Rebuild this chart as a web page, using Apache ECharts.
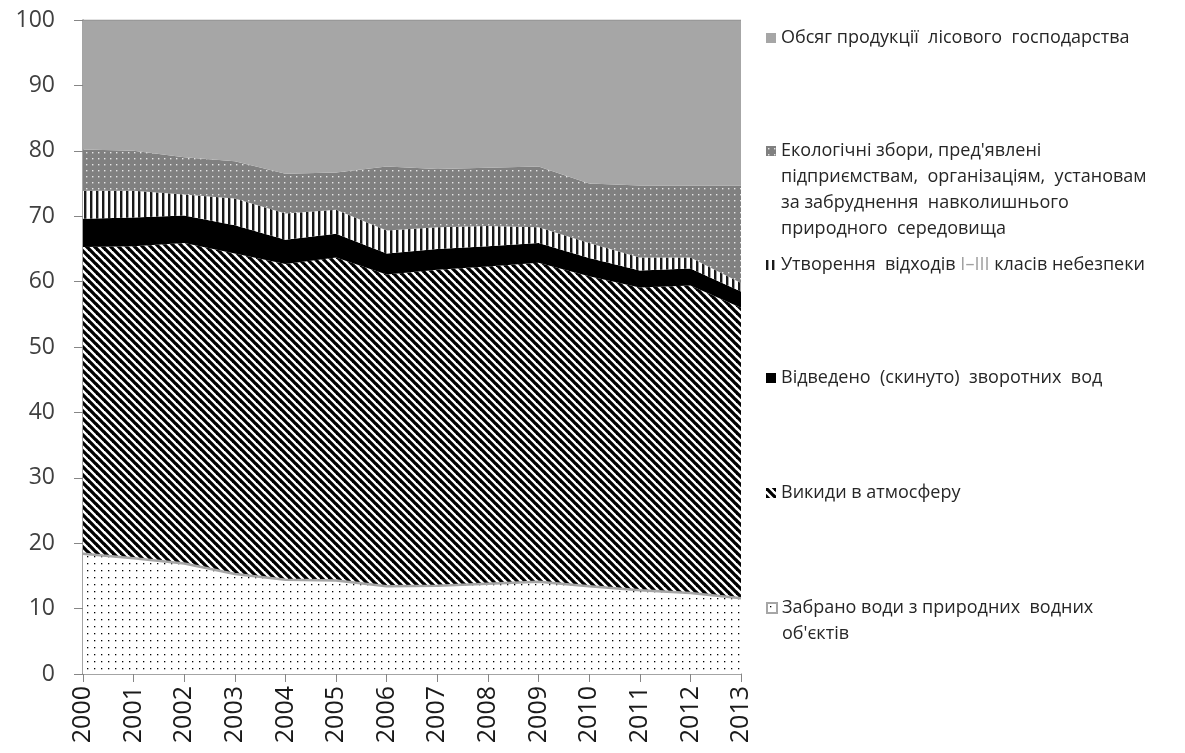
<!DOCTYPE html>
<html>
<head>
<meta charset="utf-8">
<script src="https://cdn.jsdelivr.net/npm/echarts@6/dist/echarts.min.js"></script>
<style>
html, body {margin: 0; padding: 0; background: #fff;}
#chart {width: 1185px; height: 753px;}
</style>
</head>
<body>
<div id="chart"></div>
<script>
// роки і частки (%) по кожному показнику, знизу вгору
var years = ['2000', '2001', '2002', '2003', '2004', '2005', '2006', '2007', '2008', '2009', '2010', '2011', '2012', '2013'];
var waterTaken   = [18.4, 17.7, 16.9, 15.3, 14.4, 14.3, 13.4, 13.5, 13.8, 14.1, 13.4, 12.8, 12.4, 11.6];
var airEmissions = [46.9, 47.7, 49.0, 49.0, 48.3, 49.4, 47.7, 48.3, 48.5, 48.8, 47.4, 46.3, 47.0, 44.4];
var wasteWater   = [4.3, 4.4, 4.2, 4.3, 3.7, 3.6, 3.2, 3.2, 3.1, 3.0, 2.8, 2.6, 2.6, 2.5];
var hazardWaste  = [4.3, 4.1, 3.2, 4.1, 4.0, 3.7, 3.5, 3.3, 3.1, 2.4, 2.3, 2.0, 1.7, 1.3];
var ecoFees      = [6.3, 6.1, 5.7, 5.7, 6.1, 5.7, 9.8, 8.9, 8.9, 9.3, 9.1, 11.0, 11.0, 14.9];
var forestOutput = [19.8, 20.0, 21.0, 21.6, 23.5, 23.3, 22.4, 22.8, 22.6, 22.4, 25.0, 25.3, 25.3, 25.3];

var names = [
    "Забрано води з природних водних об'єктів",
    'Викиди в атмосферу',
    'Відведено (скинуто) зворотних вод',
    'Утворення відходів I–III класів небезпеки',
    "Екологічні збори, пред'явлені підприємствам, організаціям, установам за забруднення навколишнього природного середовища",
    'Обсяг продукції лісового господарства'
];

var FONT = 'Open Sans';

// штрихування як у Excel
function makeTile(w, h, draw){
    var c = document.createElement('canvas');
    c.width = w; c.height = h;
    var ctx = c.getContext('2d');
    draw(ctx, w, h);
    return {image: c, repeat: 'repeat'};
}

var dotsFill = makeTile(7, 7, function(ctx, w, h){
    ctx.fillStyle = '#fff'; ctx.fillRect(0, 0, w, h);
    ctx.fillStyle = '#000'; ctx.fillRect(3, 3, 1.3, 1.3);
});
var diagFill = makeTile(8, 8, function(ctx, w, h){
    ctx.fillStyle = '#fff'; ctx.fillRect(0, 0, w, h);
    ctx.strokeStyle = '#000'; ctx.lineWidth = 3.3;
    [[-w, 0], [0, 0], [w, 0]].forEach(function(o){
        ctx.beginPath();
        ctx.moveTo(o[0] - 1, o[1] - 1);
        ctx.lineTo(o[0] + w + 1, o[1] + h + 1);
        ctx.stroke();
    });
});
var vertFill = makeTile(6, 6, function(ctx, w, h){
    ctx.fillStyle = '#fff'; ctx.fillRect(0, 0, w, h);
    ctx.fillStyle = '#1a1a1a'; ctx.fillRect(0, 0, 2.4, h);
});
var greyDots = makeTile(6, 6, function(ctx, w, h){
    ctx.fillStyle = '#808080'; ctx.fillRect(0, 0, w, h);
    ctx.fillStyle = '#e6e6e6'; ctx.fillRect(2, 2, 1.4, 1.4);
});

function areaSeries(name, data, fill, line){
    return {
        name: name,
        type: 'line',
        stack: 'total',
        data: data,
        symbol: 'none',
        showSymbol: false,
        lineStyle: line || {width: 0, opacity: 0},
        areaStyle: {color: fill, opacity: 1},
        itemStyle: {color: fill},
        emphasis: {disabled: true}
    };
}

// легенда праворуч, кожен пункт окремо
var legendSpec = [
    {idx: 5, y: 38, lines: ['Обсяг продукції  лісового  господарства'], icon: {color: '#a6a6a6'}},
    {idx: 4, y: 151, lines: ["Екологічні збори, пред'явлені", 'підприємствам,  організаціям,  установам', 'за забруднення  навколишнього', 'природного  середовища'], icon: {color: greyDots}},
    {idx: 3, y: 265, lines: ['Утворення  відходів {g|I–III} класів небезпеки'], icon: {color: vertFill}},
    {idx: 2, y: 378, lines: ['Відведено  (скинуто)  зворотних  вод'], icon: {color: '#000'}},
    {idx: 1, y: 493, lines: ['Викиди в атмосферу'], icon: {color: diagFill}},
    {idx: 0, y: 608, lines: ['Забрано води з природних  водних', "об'єктів"], icon: {color: dotsFill, borderColor: '#a6a6a6', borderWidth: 2}}
];
var LH = 26;
var legends = legendSpec.map(function(s){
    var n = s.lines.length;
    var text = new Array(n).join('\n') + s.lines.join('\n');
    var hgt = (2 * n - 1) * LH;
    return {
        left: 766,
        top: s.y - hgt / 2,
        padding: 0,
        itemWidth: 10,
        itemHeight: 10,
        selectedMode: false,
        icon: 'rect',
        data: [{name: names[s.idx], itemStyle: s.icon}],
        formatter: function(){ return text; },
        textStyle: {
            fontFamily: FONT, fontSize: 18, color: '#262626', lineHeight: LH,
            rich: {g: {color: '#a0a0a0', fontFamily: FONT, fontSize: 18, lineHeight: LH}}
        }
    };
});

var chart = echarts.init(document.getElementById('chart'));
chart.setOption({
    animation: false,
    backgroundColor: '#fff',
    grid: {left: 83, right: 444, top: 20, bottom: 79, outerBoundsMode: 'none'},
    legend: legends,
    xAxis: {
        type: 'category',
        data: years,
        boundaryGap: false,
        axisLine: {lineStyle: {color: '#868686', width: 1.5}},
        axisTick: {show: true, length: 8, lineStyle: {color: '#868686'}},
        axisLabel: {rotate: 90, fontFamily: FONT, fontSize: 25, color: '#1a1a1a', margin: 12}
    },
    yAxis: {
        type: 'value',
        min: 0,
        max: 100,
        interval: 10,
        axisLine: {show: true, lineStyle: {color: '#868686', width: 1.5}},
        axisTick: {show: true, length: 9, lineStyle: {color: '#868686'}},
        splitLine: {show: false},
        axisLabel: {fontFamily: FONT, fontSize: 23, color: '#404040', margin: 28}
    },
    series: [
        areaSeries(names[0], waterTaken, dotsFill, {color: '#a6a6a6', width: 2.5}),
        areaSeries(names[1], airEmissions, diagFill),
        areaSeries(names[2], wasteWater, '#000'),
        areaSeries(names[3], hazardWaste, vertFill),
        areaSeries(names[4], ecoFees, greyDots),
        areaSeries(names[5], forestOutput, '#a6a6a6', {color: '#8c8c8c', width: 1})
    ]
});
</script>
</body>
</html>
